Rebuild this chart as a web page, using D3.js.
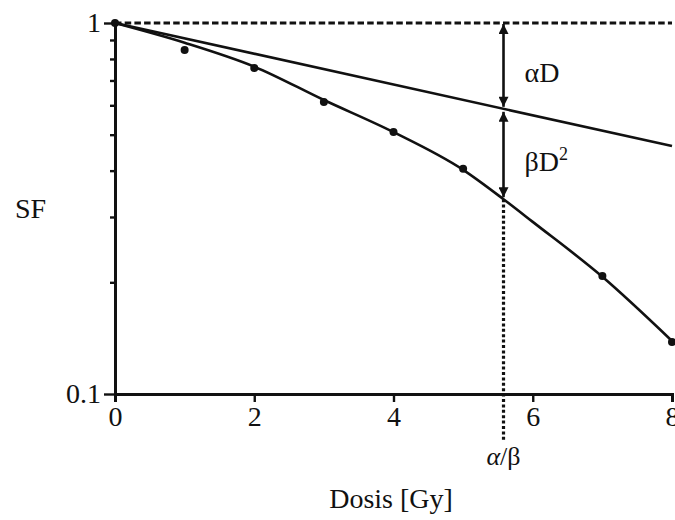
<!doctype html>
<html>
<head>
<meta charset="utf-8">
<script src="https://cdnjs.cloudflare.com/ajax/libs/d3/7.8.5/d3.min.js"></script>
<style>
  body { margin: 0; background: #fff; }
  text { font-family: "Liberation Serif", "Times New Roman", serif; fill: #111; }
</style>
</head>
<body>
<svg width="675" height="520" id="chart"></svg>
<script>
// measured points (dose in Gy, surviving fraction)
var doseMeasured = [0, 1, 2, 3, 4, 5, 7, 8];
var sfMeasured   = [1.0, 0.846, 0.756, 0.612, 0.508, 0.405, 0.208, 0.138];

// linear-quadratic fit curve
var doseCurve = [0, 1, 2, 3, 4, 5, 5.58, 6, 7, 8];
var sfCurve   = [1.0, 0.885, 0.763, 0.620, 0.508, 0.402, 0.335, 0.291, 0.207, 0.139];

// alpha component only (straight line on the log plot)
var doseAlpha = [0, 8];
var sfAlpha   = [1.0, 0.466];

var alphaBeta = 5.58;
var xTicks = [0, 2, 4, 6, 8];
var yTicks = [0.1, 0.2, 0.3, 0.4, 0.5, 0.6, 0.7, 0.8, 0.9, 1];
var yLabels = [0.1, 1];

var svg = d3.select("#chart");

var x = d3.scaleLinear().domain([0, 8]).range([115, 672]);
var y = d3.scaleLog().domain([0.1, 1]).range([394, 23]);

// alpha line value at alpha/beta, interpolated on the log axis
function alphaAt(d) {
  var t = (d - doseAlpha[0]) / (doseAlpha[1] - doseAlpha[0]);
  return Math.exp(Math.log(sfAlpha[0]) + t * (Math.log(sfAlpha[1]) - Math.log(sfAlpha[0])));
}
var sfAlphaAB = alphaAt(alphaBeta);
var sfCurveAB = sfCurve[doseCurve.indexOf(alphaBeta)];

// arrow heads
var defs = svg.append("defs");
defs.append("marker")
  .attr("id", "head")
  .attr("markerUnits", "userSpaceOnUse")
  .attr("viewBox", "0 0 10 10")
  .attr("refX", 10).attr("refY", 5)
  .attr("markerWidth", 11).attr("markerHeight", 10)
  .attr("orient", "auto-start-reverse")
  .append("path")
  .attr("d", "M0,0 L10,5 L0,10 Z")
  .attr("fill", "#111");

// dashed line at SF = 1
svg.append("line")
  .attr("x1", x(0)).attr("x2", x(8))
  .attr("y1", y(1)).attr("y2", y(1))
  .attr("stroke", "#111")
  .attr("stroke-width", 3)
  .attr("stroke-dasharray", "6.5,3.2");

// dotted line at alpha/beta
svg.append("line")
  .attr("x1", x(alphaBeta)).attr("x2", x(alphaBeta))
  .attr("y1", y(sfCurveAB)).attr("y2", 440)
  .attr("stroke", "#111")
  .attr("stroke-width", 3.2)
  .attr("stroke-dasharray", "3,2.4");

// axes
var yAxis = svg.append("g")
  .attr("transform", "translate(" + x(0) + ",0)")
  .call(d3.axisLeft(y)
    .tickValues(yTicks)
    .tickSizeOuter(0)
    .tickPadding(6)
    .tickFormat(function (d) { return yLabels.indexOf(d) >= 0 ? d3.format("")(d) : ""; }));
yAxis.select(".domain").attr("stroke", "#111").attr("stroke-width", 3);
yAxis.selectAll(".tick line")
  .attr("stroke", "#111")
  .attr("stroke-width", 2.4)
  .attr("x2", function (d) { return yLabels.indexOf(d) >= 0 ? -11 : -5; });
yAxis.selectAll(".tick text")
  .attr("x", -14)
  .style("font-size", "28px")
  .style("font-family", "Liberation Serif, serif");

var xAxis = svg.append("g")
  .attr("transform", "translate(0," + y(0.1) + ")")
  .call(d3.axisBottom(x)
    .tickValues(xTicks)
    .tickSizeOuter(0)
    .tickSize(8)
    .tickPadding(4)
    .tickFormat(d3.format("d")));
xAxis.select(".domain").attr("stroke", "#111").attr("stroke-width", 3);
xAxis.selectAll(".tick line").attr("stroke", "#111").attr("stroke-width", 2.4);
xAxis.selectAll(".tick text")
  .style("font-size", "28px")
  .style("font-family", "Liberation Serif, serif");

// alpha-only line
svg.append("path")
  .datum(d3.zip(doseAlpha, sfAlpha))
  .attr("fill", "none")
  .attr("stroke", "#111")
  .attr("stroke-width", 2.6)
  .attr("d", d3.line()
    .x(function (d) { return x(d[0]); })
    .y(function (d) { return y(d[1]); }));

// LQ curve
svg.append("path")
  .datum(d3.zip(doseCurve, sfCurve))
  .attr("fill", "none")
  .attr("stroke", "#111")
  .attr("stroke-width", 2.6)
  .attr("d", d3.line()
    .curve(d3.curveMonotoneX)
    .x(function (d) { return x(d[0]); })
    .y(function (d) { return y(d[1]); }));

// measured dots
svg.append("g")
  .selectAll("circle")
  .data(d3.zip(doseMeasured, sfMeasured))
  .enter()
  .append("circle")
  .attr("cx", function (d) { return x(d[0]); })
  .attr("cy", function (d) { return y(d[1]); })
  .attr("r", 4)
  .attr("fill", "#111");

// double arrows for alpha D and beta D^2
var ax = x(alphaBeta);
svg.append("line")
  .attr("x1", ax).attr("x2", ax)
  .attr("y1", y(1) + 1).attr("y2", y(sfAlphaAB) - 2)
  .attr("stroke", "#111").attr("stroke-width", 2.6)
  .attr("marker-start", "url(#head)")
  .attr("marker-end", "url(#head)");
svg.append("line")
  .attr("x1", ax).attr("x2", ax)
  .attr("y1", y(sfAlphaAB) + 3).attr("y2", y(sfCurveAB) - 2)
  .attr("stroke", "#111").attr("stroke-width", 2.6)
  .attr("marker-start", "url(#head)")
  .attr("marker-end", "url(#head)");

svg.append("text")
  .attr("x", ax + 21).attr("y", 82)
  .style("font-size", "28px")
  .text("αD");

var bt = svg.append("text")
  .attr("x", ax + 21).attr("y", 171)
  .style("font-size", "28px");
bt.append("tspan").text("βD");
bt.append("tspan").attr("dy", -11).style("font-size", "18px").text("2");

// labels
svg.append("text")
  .attr("x", ax).attr("y", 465)
  .attr("text-anchor", "middle")
  .style("font-size", "26px")
  .html('<tspan font-style="italic">α</tspan>/β');

svg.append("text")
  .attr("x", 391).attr("y", 508)
  .attr("text-anchor", "middle")
  .style("font-size", "28px")
  .text("Dosis [Gy]");

svg.append("text")
  .attr("x", 15).attr("y", 218)
  .style("font-size", "28px")
  .text("SF");
</script>
</body>
</html>
